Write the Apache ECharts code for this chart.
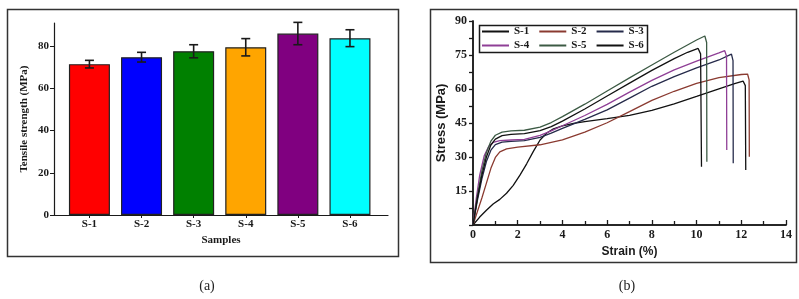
<!DOCTYPE html>
<html>
<head>
<meta charset="utf-8">
<script src="https://cdn.jsdelivr.net/npm/echarts@6/dist/echarts.min.js"></script>
<style>
  html, body { margin: 0; padding: 0; background: #fff; }
  #chart { width: 799px; height: 299px; }
</style>
</head>
<body>
<div id="chart"></div>
<script>
// (a) tensile strength per sample
const samples = ['S-1', 'S-2', 'S-3', 'S-4', 'S-5', 'S-6'];
const strengthMean = [71.5, 74.8, 77.6, 79.5, 86.0, 83.8];
const strengthErr = [1.8, 2.3, 3.1, 4.1, 5.3, 4.0];
const barColors = ['#ff0000', '#0000ff', '#008000', '#ffa500', '#800080', '#00ffff'];
const strengthTicks = [0, 20, 40, 60, 80];

// (b) stress-strain curves, [strain %, stress MPa]
const curveS1 = [[0,0],[0.3,3.5],[0.6,6.5],[0.9,9.3],[1.2,11.3],[1.5,14],[1.8,17.5],[2.1,22],[2.4,27],[2.7,32.5],[3.0,37.5],[3.3,40.6],[3.6,42.4],[4,43.7],[4.5,44.8],[5,45.6],[6,46.9],[7,48.4],[8,50.6],[9,53.4],[10,56.7],[11,60.1],[11.7,62.4],[12.08,63.5],[12.18,61.5],[12.2,24.3]];
const curveS2 = [[0,0],[0.2,6],[0.4,12],[0.6,18.5],[0.8,25],[1.0,29.8],[1.2,32.3],[1.5,33.6],[2,34.4],[3,35.4],[4,37.6],[5,41],[6,45.1],[7,50],[8,55],[9,59],[10,62.5],[11,65],[12,66.4],[12.28,66.6],[12.35,64],[12.36,30.1]];
const curveS3 = [[0,0],[0.2,11],[0.4,20.5],[0.6,28],[0.8,33],[1.0,35.5],[1.3,36.6],[1.7,36.9],[2.3,37.2],[3,38.7],[3.5,40.5],[4,42.6],[5,46.6],[6,50.8],[7,56],[8,61.2],[9,65.5],[10,69.3],[11,72.8],[11.56,75.4],[11.63,72.5],[11.64,27.2]];
const curveS4 = [[0,0],[0.15,12],[0.3,22],[0.5,30.5],[0.7,34.6],[0.9,36.4],[1.2,37.2],[1.7,37.5],[2.3,37.8],[3,39.5],[3.5,41.5],[4,43.8],[5,48.3],[6,53.2],[7,58.6],[8,63.8],[9,68.4],[10,72.3],[11,75.9],[11.26,76.9],[11.34,74.5],[11.35,33.1]];
const curveS5 = [[0,0],[0.2,13],[0.4,24],[0.6,32],[0.8,37],[1.0,39.6],[1.3,41],[1.7,41.5],[2.3,41.8],[3,43.2],[3.5,45.2],[4,47.8],[5,53.3],[6,59.1],[7,64.9],[8,70.6],[9,76.2],[10,81.6],[10.37,83.4],[10.45,80.5],[10.46,27.9]];
const curveS6 = [[0,0],[0.2,12],[0.4,22],[0.6,30],[0.8,35.3],[1.0,37.9],[1.3,39.4],[1.7,40],[2.3,40.3],[3,41.6],[3.5,43.4],[4,45.8],[5,51.2],[6,56.9],[7,62.6],[8,68.2],[9,73.4],[9.6,76.2],[10.07,77.9],[10.18,75.5],[10.22,25.7]];
const curves = [curveS1, curveS2, curveS3, curveS4, curveS5, curveS6];
const curveColors = ['#111111', '#8a3a30', '#252a4a', '#8f3f96', '#3c5a44', '#111111'];

const serif = 'Liberation Serif';
const sans = 'Liberation Sans';
const ink = '#1a1a1a';

const chart = echarts.init(document.getElementById('chart'), null, { renderer: 'canvas' });

const lineSeries = samples.map((name, i) => ({
    name: name,
    type: 'line',
    xAxisIndex: 1,
    yAxisIndex: 1,
    data: curves[i],
    symbol: 'none',
    color: curveColors[i],
    lineStyle: { color: curveColors[i], width: 1.3 },
    animation: false,
    z: 3
}));

const legendStyle = {
    icon: 'rect',
    itemWidth: 27,
    itemHeight: 2,
    itemGap: 10,
    padding: 0,
    textStyle: { fontFamily: serif, fontWeight: 'bold', fontSize: 11, color: ink }
};

const option = {
    animation: false,
    backgroundColor: '#fff',
    grid: [
        { left: 54, top: 23, width: 334, height: 192 },
        { left: 473, top: 21, width: 313, height: 204 }
    ],
    xAxis: [
        {
            gridIndex: 0, type: 'value', min: 0.32, max: 6.73,
            splitLine: { show: false },
            axisLine: { lineStyle: { color: ink, width: 1.2 } },
            axisTick: { customValues: [1, 2, 3, 4, 5, 6], length: 3, lineStyle: { color: ink } },
            axisLabel: {
                customValues: [1, 2, 3, 4, 5, 6],
                formatter: v => samples[Math.round(v) - 1],
                fontFamily: serif, fontWeight: 'bold', fontSize: 11, color: ink, margin: 4
            },
            name: 'Samples', nameLocation: 'middle', nameGap: 20,
            nameTextStyle: { fontFamily: serif, fontWeight: 'bold', fontSize: 11, color: ink }
        },
        {
            gridIndex: 1, type: 'value', min: 0, max: 14, interval: 2,
            splitLine: { show: false },
            axisLine: { lineStyle: { color: ink, width: 1.5 } },
            axisTick: { inside: true, length: 5, lineStyle: { color: ink, width: 1.3 } },
            minorTick: { show: true, splitNumber: 2, length: 4, lineStyle: { color: ink, width: 1.3 } },
            axisLabel: { fontFamily: serif, fontWeight: 'bold', fontSize: 12, color: ink, margin: 4 },
            name: 'Strain (%)', nameLocation: 'middle', nameGap: 15,
            nameTextStyle: { fontFamily: sans, fontWeight: 'bold', fontSize: 12, color: ink }
        },
        {
            gridIndex: 1, type: 'value', min: 0, max: 14, position: 'top',
            splitLine: { show: false },
            axisLine: { lineStyle: { color: ink, width: 1.5 } },
            axisTick: { show: false }, axisLabel: { show: false }
        }
    ],
    yAxis: [
        {
            gridIndex: 0, type: 'value', min: 0, max: 91,
            splitLine: { show: false },
            axisLine: { show: true, lineStyle: { color: ink, width: 1.2 } },
            axisTick: { show: true, customValues: strengthTicks, length: 4, lineStyle: { color: ink } },
            axisLabel: {
                customValues: strengthTicks,
                fontFamily: serif, fontWeight: 'bold', fontSize: 11, color: ink, margin: 5
            },
            name: 'Tensile strength (MPa)', nameLocation: 'middle', nameRotate: 90, nameGap: 24,
            nameTextStyle: { fontFamily: serif, fontWeight: 'bold', fontSize: 11, color: ink }
        },
        {
            gridIndex: 1, type: 'value', min: 0, max: 90, interval: 15,
            splitLine: { show: false },
            axisLine: { show: true, lineStyle: { color: ink, width: 1.5 } },
            axisTick: { show: true, length: 4, lineStyle: { color: ink, width: 1.3 } },
            minorTick: { show: true, splitNumber: 2, length: 4, lineStyle: { color: ink, width: 1.3 } },
            axisLabel: { showMinLabel: false, fontFamily: serif, fontWeight: 'bold', fontSize: 12, color: ink, margin: 6 },
            name: 'Stress (MPa)', nameLocation: 'middle', nameRotate: 90, nameGap: 25,
            nameTextStyle: { fontFamily: sans, fontWeight: 'bold', fontSize: 13, color: ink }
        },
        {
            gridIndex: 1, type: 'value', min: 0, max: 90, position: 'right',
            splitLine: { show: false },
            axisLine: { show: true, lineStyle: { color: ink, width: 1.5 } },
            axisTick: { show: false }, axisLabel: { show: false }
        }
    ],
    legend: [
        Object.assign({ data: samples.slice(0, 3), left: 482, top: 26 }, legendStyle),
        Object.assign({ data: samples.slice(3), left: 482, top: 40 }, legendStyle)
    ],
    graphic: [
        { type: 'rect', shape: { x: 7.5, y: 9.5, width: 391, height: 247 }, style: { fill: 'none', stroke: '#333', lineWidth: 1.5 } },
        { type: 'rect', shape: { x: 430.5, y: 9.5, width: 366, height: 253 }, style: { fill: 'none', stroke: '#333', lineWidth: 1.5 } },
        { type: 'rect', shape: { x: 479.5, y: 25.5, width: 168, height: 27 }, style: { fill: 'none', stroke: ink, lineWidth: 1.5 }, z: 10 },
        { type: 'text', x: 207, y: 286, style: { text: '(a)', font: '14px "Liberation Serif"', fill: '#222', textAlign: 'center', textVerticalAlign: 'middle' } },
        { type: 'text', x: 627, y: 286, style: { text: '(b)', font: '14px "Liberation Serif"', fill: '#222', textAlign: 'center', textVerticalAlign: 'middle' } }
    ],
    series: [
        {
            type: 'bar',
            xAxisIndex: 0, yAxisIndex: 0,
            barWidth: 41,
            data: samples.map((s, i) => ({
                value: [i + 1, strengthMean[i]],
                itemStyle: { color: barColors[i], borderColor: '#222', borderWidth: 1.2 }
            }))
        },
        {
            type: 'custom',
            xAxisIndex: 0, yAxisIndex: 0,
            z: 5,
            encode: { x: 0, y: 1 },
            data: samples.map((s, i) => [i + 1, strengthMean[i], strengthErr[i]]),
            renderItem: function (params, api) {
                const x = api.value(0);
                const m = api.value(1);
                const e = api.value(2);
                const hi = api.coord([x, m + e]);
                const lo = api.coord([x, m - e]);
                const cap = 4.5;
                const st = { stroke: ink, lineWidth: 1.6 };
                return {
                    type: 'group',
                    children: [
                        { type: 'line', shape: { x1: hi[0], y1: hi[1], x2: lo[0], y2: lo[1] }, style: st },
                        { type: 'line', shape: { x1: hi[0] - cap, y1: hi[1], x2: hi[0] + cap, y2: hi[1] }, style: st },
                        { type: 'line', shape: { x1: lo[0] - cap, y1: lo[1], x2: lo[0] + cap, y2: lo[1] }, style: st }
                    ]
                };
            }
        }
    ].concat(lineSeries)
};

chart.setOption(option);
</script>
</body>
</html>
